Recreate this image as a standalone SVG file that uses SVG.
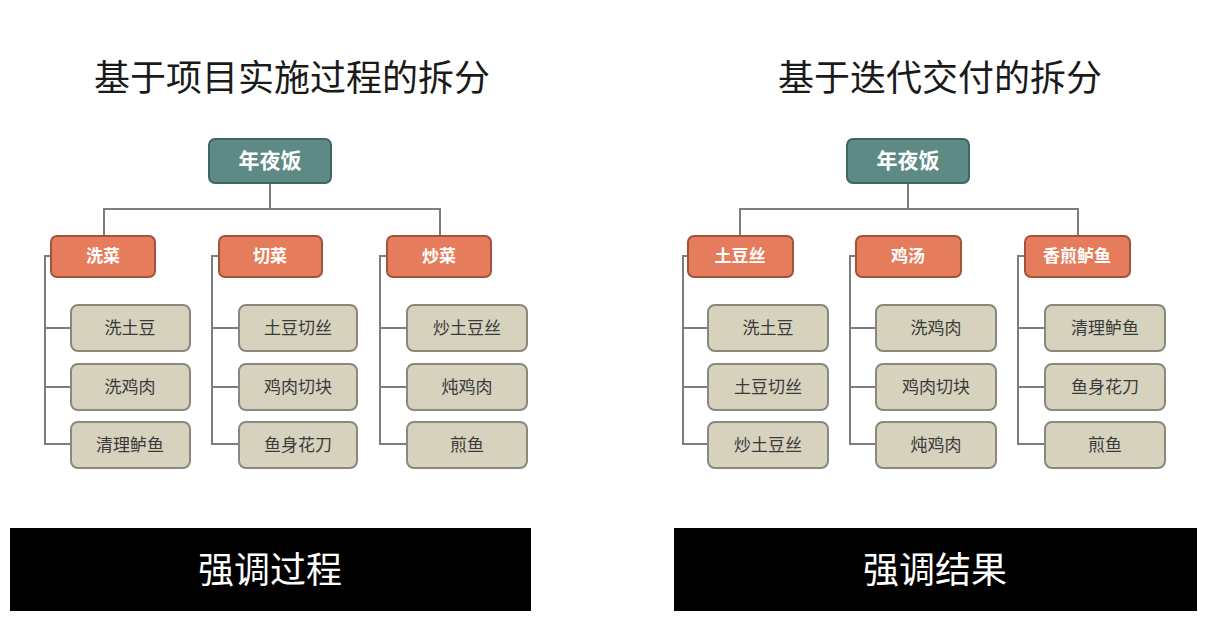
<svg xmlns="http://www.w3.org/2000/svg" width="1210" height="625" viewBox="0 0 1210 625">
<style>
.title{font-family:"Noto Sans CJK SC","Noto Sans",sans-serif;font-size:36px;fill:#1a1a1a;text-anchor:middle}
.root rect{fill:#5d8a85;stroke:#3f6662;stroke-width:2}
.root text{font-family:"Noto Sans CJK SC",sans-serif;font-size:21px;font-weight:bold;fill:#ffffff;text-anchor:middle}
.cat rect{fill:#e57c5b;stroke:#a2543b;stroke-width:2}
.cat text{font-family:"Noto Sans CJK SC",sans-serif;font-size:17px;font-weight:bold;fill:#ffffff;text-anchor:middle}
.leaf rect{fill:#d6d2bd;stroke:#8a887c;stroke-width:2}
.leaf text{font-family:"Noto Sans CJK SC",sans-serif;font-size:17px;fill:#3a3a3a;text-anchor:middle}
.bar rect{fill:#000000}
.bar text{font-family:"Noto Sans CJK SC",sans-serif;font-size:36px;fill:#ffffff;text-anchor:middle}
.conn path{fill:none;stroke:#7d7d7d;stroke-width:2}
</style>
<rect width="1210" height="625" fill="#ffffff"/>
<text class="title" x="292" y="91">基于项目实施过程的拆分</text>
<text class="title" x="940" y="91">基于迭代交付的拆分</text>

<g class="conn" id="connectors">
<path d="M270 183V209M104 236V209H440V236"/>
<path d="M51 256H45V444H71M45 328H71M45 387H71"/>
<path d="M219 256H212V444H239M212 328H239M212 387H239"/>
<path d="M387 256H380V444H407M380 328H407M380 387H407"/>
<path d="M908 183V209M740 236V209H1078V236"/>
<path d="M688 256H683V444H708M683 328H708M683 387H708"/>
<path d="M856 256H850V444H876M850 328H876M850 387H876"/>
<path d="M1025 256H1018V444H1045M1018 328H1045M1018 387H1045"/>
</g>

<g class="root" id="root-left"><rect x="209" y="139" width="122" height="44" rx="6"/><text x="270" y="168">年夜饭</text></g>
<g class="cat" id="xicai"><rect x="51" y="236" width="104" height="41" rx="6"/><text x="103" y="262">洗菜</text></g>
<g class="cat" id="qiecai"><rect x="219" y="236" width="103" height="41" rx="6"/><text x="270" y="262">切菜</text></g>
<g class="cat" id="chaocai"><rect x="387" y="236" width="104" height="41" rx="6"/><text x="439" y="262">炒菜</text></g>

<g class="leaf" id="l1"><rect x="71" y="305" width="119" height="46" rx="7"/><text x="130" y="334">洗土豆</text></g>
<g class="leaf" id="l2"><rect x="71" y="364" width="119" height="46" rx="7"/><text x="130" y="393">洗鸡肉</text></g>
<g class="leaf" id="l3"><rect x="71" y="422" width="119" height="46" rx="7"/><text x="130" y="451">清理鲈鱼</text></g>
<g class="leaf" id="l4"><rect x="239" y="305" width="118" height="46" rx="7"/><text x="298" y="334">土豆切丝</text></g>
<g class="leaf" id="l5"><rect x="239" y="364" width="118" height="46" rx="7"/><text x="298" y="393">鸡肉切块</text></g>
<g class="leaf" id="l6"><rect x="239" y="422" width="118" height="46" rx="7"/><text x="298" y="451">鱼身花刀</text></g>
<g class="leaf" id="l7"><rect x="407" y="305" width="120" height="46" rx="7"/><text x="467" y="334">炒土豆丝</text></g>
<g class="leaf" id="l8"><rect x="407" y="364" width="120" height="46" rx="7"/><text x="467" y="393">炖鸡肉</text></g>
<g class="leaf" id="l9"><rect x="407" y="422" width="120" height="46" rx="7"/><text x="467" y="451">煎鱼</text></g>

<g class="root" id="root-right"><rect x="847" y="139" width="122" height="44" rx="6"/><text x="908" y="168">年夜饭</text></g>
<g class="cat" id="tudousi"><rect x="688" y="236" width="105" height="41" rx="6"/><text x="740" y="262">土豆丝</text></g>
<g class="cat" id="jitang"><rect x="856" y="236" width="105" height="41" rx="6"/><text x="908" y="262">鸡汤</text></g>
<g class="cat" id="luyu"><rect x="1025" y="236" width="105" height="41" rx="6"/><text x="1077" y="262">香煎鲈鱼</text></g>

<g class="leaf" id="r1"><rect x="708" y="305" width="120" height="46" rx="7"/><text x="768" y="334">洗土豆</text></g>
<g class="leaf" id="r2"><rect x="708" y="364" width="120" height="46" rx="7"/><text x="768" y="393">土豆切丝</text></g>
<g class="leaf" id="r3"><rect x="708" y="422" width="120" height="46" rx="7"/><text x="768" y="451">炒土豆丝</text></g>
<g class="leaf" id="r4"><rect x="876" y="305" width="120" height="46" rx="7"/><text x="936" y="334">洗鸡肉</text></g>
<g class="leaf" id="r5"><rect x="876" y="364" width="120" height="46" rx="7"/><text x="936" y="393">鸡肉切块</text></g>
<g class="leaf" id="r6"><rect x="876" y="422" width="120" height="46" rx="7"/><text x="936" y="451">炖鸡肉</text></g>
<g class="leaf" id="r7"><rect x="1045" y="305" width="120" height="46" rx="7"/><text x="1105" y="334">清理鲈鱼</text></g>
<g class="leaf" id="r8"><rect x="1045" y="364" width="120" height="46" rx="7"/><text x="1105" y="393">鱼身花刀</text></g>
<g class="leaf" id="r9"><rect x="1045" y="422" width="120" height="46" rx="7"/><text x="1105" y="451">煎鱼</text></g>

<g class="bar" id="bar-left"><rect x="10" y="528" width="521" height="83"/><text x="270" y="583">强调过程</text></g>
<g class="bar" id="bar-right"><rect x="674" y="528" width="523" height="83"/><text x="935" y="583">强调结果</text></g>
</svg>
